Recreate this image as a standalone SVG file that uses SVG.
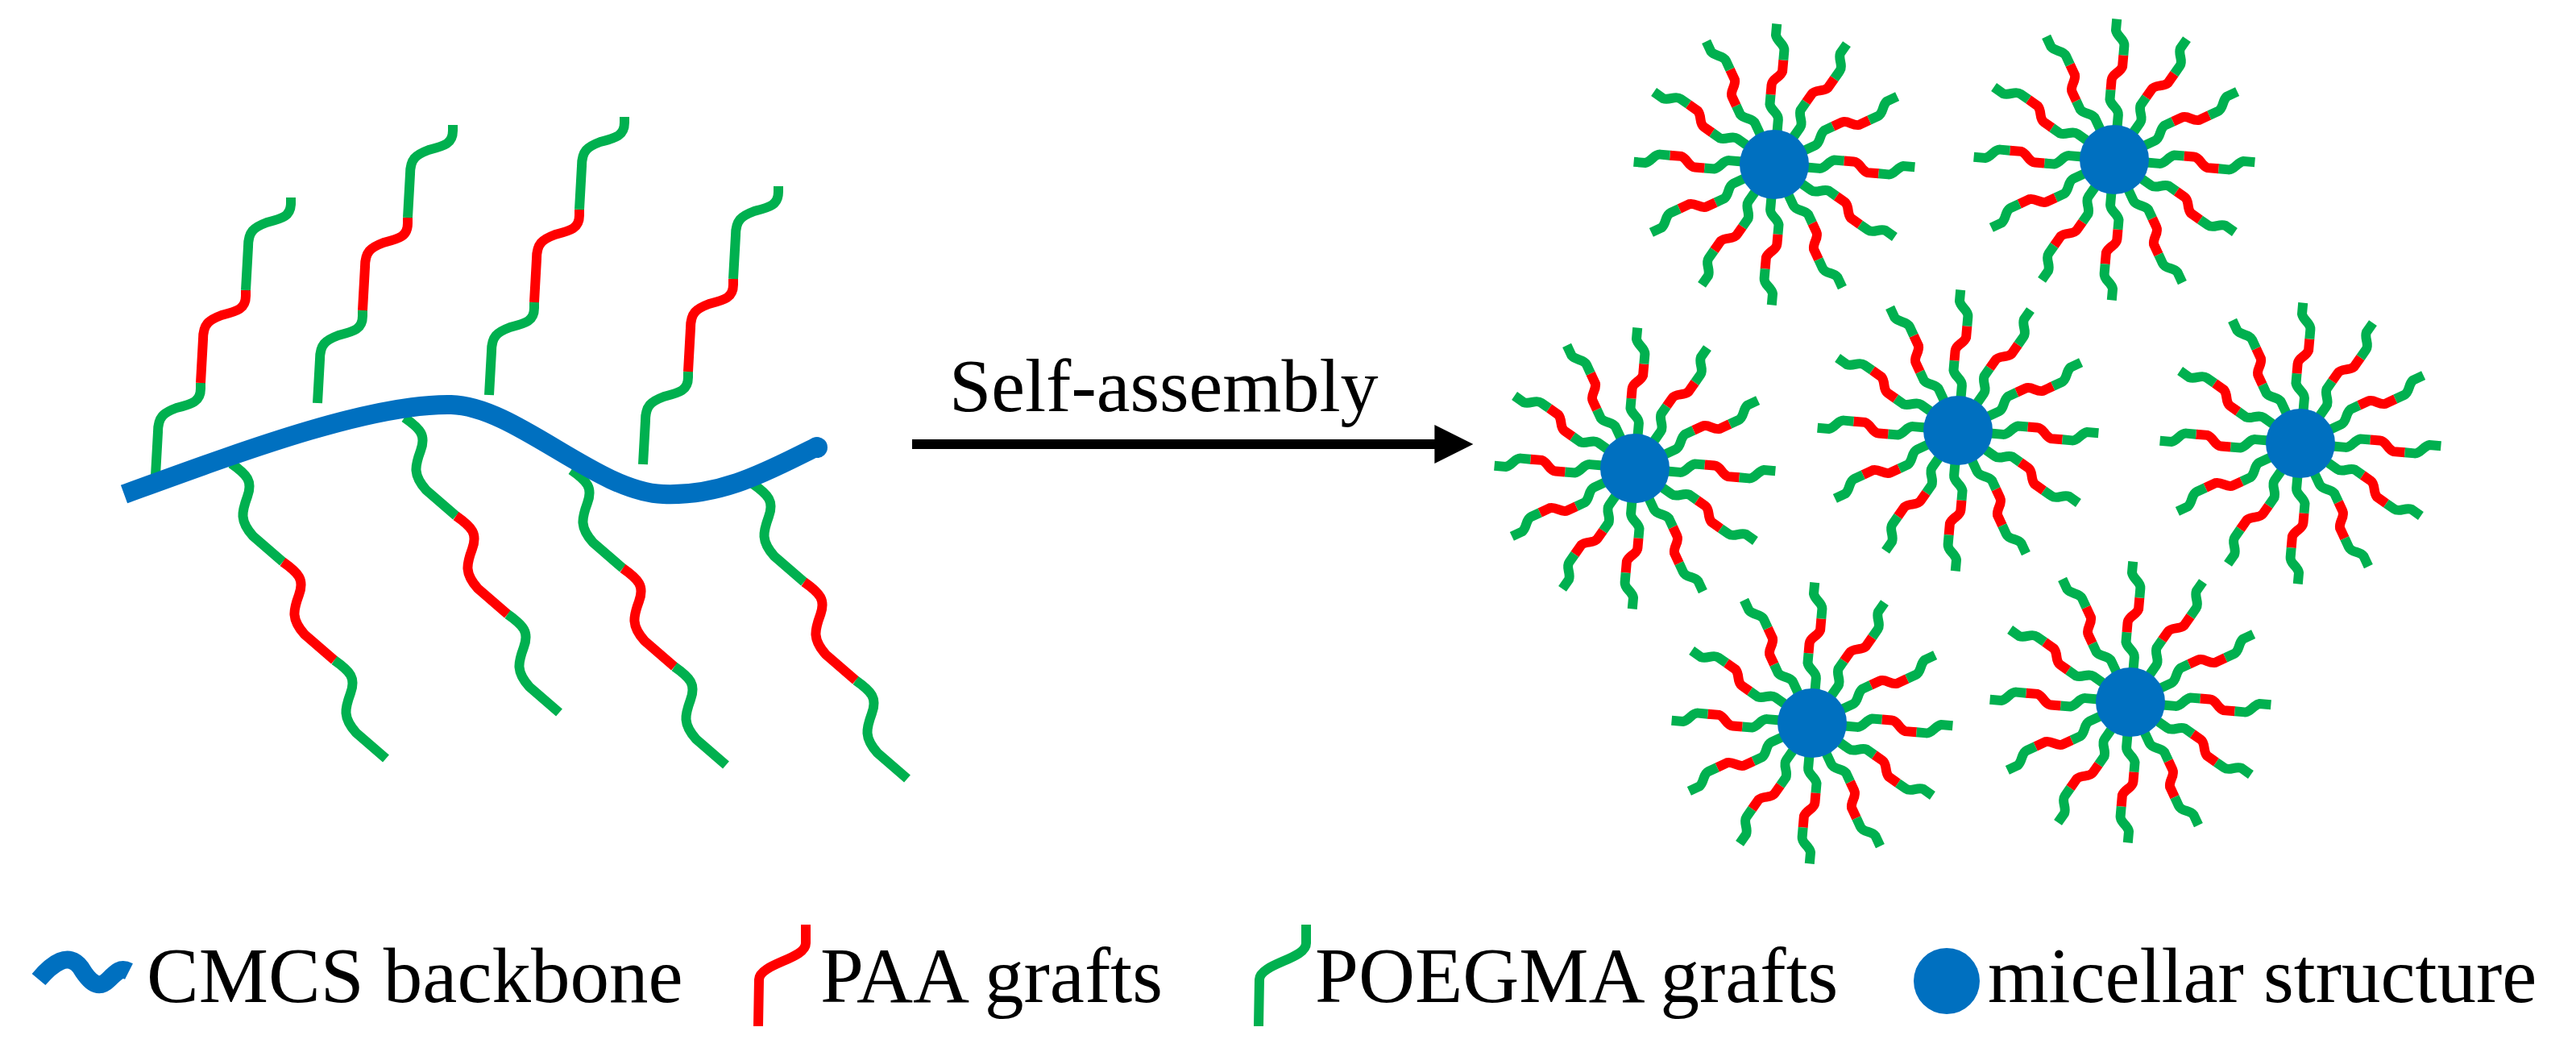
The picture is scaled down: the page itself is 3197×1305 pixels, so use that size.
<svg xmlns="http://www.w3.org/2000/svg" xmlns:xlink="http://www.w3.org/1999/xlink" width="3197" height="1305" viewBox="0 0 3197 1305">
<style>
.g{fill:none;stroke:#00B04F;stroke-width:12}
.r{fill:none;stroke:#FF0000;stroke-width:12}
.bb{fill:none;stroke:#0070C0;stroke-width:24}
text{font-family:"Liberation Serif","Times New Roman",serif;fill:#000}
</style>
<defs>
<marker id="ah" viewBox="0 0 10 10" refX="2" refY="5" markerWidth="5" markerHeight="4" markerUnits="strokeWidth" orient="auto"><path d="M0,0 L10,5 L0,10 z" fill="#000"/></marker>
<g id="up">
<path class="g" d="M0,0 l3,-54 c0,-19 7,-24 23,-30 c20,-5 30,-8 30,-24 l0,-7"/>
<path class="r" d="M56,-115 l3,-54 c0,-19 7,-24 23,-30 c20,-5 30,-8 30,-24 l0,-7"/>
<path class="g" d="M112,-230 l3,-54 c0,-19 7,-24 23,-30 c20,-5 30,-8 30,-24 l0,-7"/>
</g>
<g id="down">
<path class="g" d="M0,0 c20,14 27,22 20,41 c-7,19 -10,30 7,49 l37,32"/>
<path class="r" d="M64,122 c20,14 27,22 20,41 c-7,19 -10,30 7,49 l37,32"/>
<path class="g" d="M128,244 c20,14 27,22 20,41 c-7,19 -10,30 7,49 l37,32"/>
</g>
<g id="arm">
<path class="g" d="M40,0 L56,0 C64,0 66,-10 74,-12 L86,-12"/>
<path class="r" d="M86,-12 L98,-12 C106,-12 108,-2 116,0 L130,0"/>
<path class="g" d="M130,0 L142,0 C150,0 152,-10 160,-12 L174,-12"/>
</g>
<g id="mic">
<use href="#arm" transform="rotate(5)"/>
<use href="#arm" transform="rotate(35)"/>
<use href="#arm" transform="rotate(65)"/>
<use href="#arm" transform="rotate(95)"/>
<use href="#arm" transform="rotate(125)"/>
<use href="#arm" transform="rotate(155)"/>
<use href="#arm" transform="rotate(185)"/>
<use href="#arm" transform="rotate(215)"/>
<use href="#arm" transform="rotate(245)"/>
<use href="#arm" transform="rotate(275)"/>
<use href="#arm" transform="rotate(305)"/>
<use href="#arm" transform="rotate(335)"/>
<circle r="43" fill="#0070C0"/>
</g>
</defs>
<g id="polymer">
<use href="#up" x="193" y="590"/>
<use href="#up" x="394" y="500"/>
<use href="#up" x="607" y="490"/>
<use href="#up" x="798" y="576"/>
<use href="#down" x="287" y="575"/>
<use href="#down" x="502" y="518"/>
<use href="#down" x="709" y="583"/>
<use href="#down" x="934" y="600"/>
<path class="bb" d="M154,613 C300,560 460,500 560,502 C640,504 740,610 823,613 C900,616 960,580 1014,554"/>
<circle cx="1014" cy="555" r="13" fill="#0070C0"/>
</g>
<g id="connectors">
<line x1="1132" y1="551" x2="1790" y2="551" stroke="#000" stroke-width="12" marker-end="url(#ah)"/>
</g>
<text x="1178" y="510" font-size="94">Self-assembly</text>
<g id="m1"><use href="#mic" transform="translate(2202,204)"/></g>
<g id="m2"><use href="#mic" transform="translate(2624,198)"/></g>
<g id="m3"><use href="#mic" transform="translate(2029,581)"/></g>
<g id="m4"><use href="#mic" transform="translate(2430,534)"/></g>
<g id="m5"><use href="#mic" transform="translate(2855,550)"/></g>
<g id="m6"><use href="#mic" transform="translate(2249,897)"/></g>
<g id="m7"><use href="#mic" transform="translate(2644,871)"/></g>
<g id="legend">
<path d="M48,1215 C65,1195 85,1180 100,1200 C115,1225 125,1225 135,1215 C145,1205 150,1200 160,1205" fill="none" stroke="#0070C0" stroke-width="22"/>
<text x="182" y="1243" font-size="97">CMCS backbone</text>
<path d="M941,1273 L942,1215 C943,1195 1000,1190 1000,1170 L1000,1147" fill="none" stroke="#FF0000" stroke-width="12"/>
<text x="1018" y="1243" font-size="97">PAA grafts</text>
<path d="M1562,1273 L1563,1215 C1564,1195 1621,1190 1621,1170 L1621,1147" fill="none" stroke="#00B04F" stroke-width="12"/>
<text x="1632" y="1243" font-size="97">POEGMA grafts</text>
<circle cx="2416" cy="1217" r="41" fill="#0070C0"/>
<text x="2467" y="1243" font-size="97">micellar structure</text>
</g>
</svg>
